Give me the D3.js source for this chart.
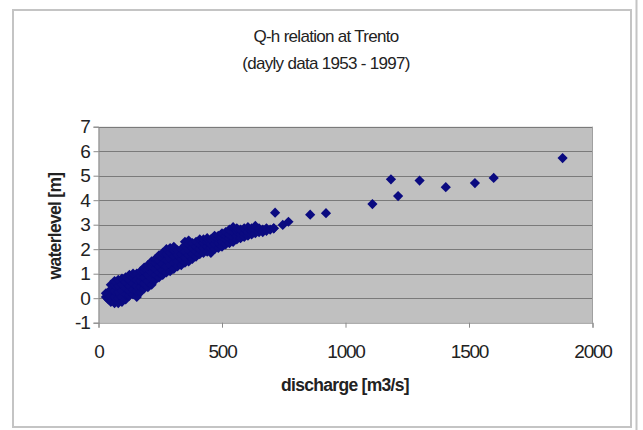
<!DOCTYPE html>
<html><head><meta charset="utf-8">
<script src="https://cdn.jsdelivr.net/npm/d3@7"></script>
<style>body{margin:0;background:#fff}svg{display:block}text{font-family:"Liberation Sans",Arial,sans-serif}</style>
</head><body><svg id="c" width="643" height="430"></svg>
<script>
const titleLines = ["Q-h relation at Trento", "(dayly data 1953 - 1997)"];
const xLabel = "discharge [m3/s]";
const yLabel = "waterlevel  [m]";
const xTicks = [0, 500, 1000, 1500, 2000];
const yTicks = [-1, 0, 1, 2, 3, 4, 5, 6, 7];

// discharge [m3/s] and waterlevel [m], read column by column off the cloud
const discharge = [
  30,30, 40,40, 50,50,50,50, 65,65,65,65,65, 80,80,80,80,80, 95,95,95,95,95,
  110,110,110,110,110, 125,125,125,125,125, 140,140,140,140,140, 155,155,155,155,155,
  170,170,170,170,170, 185,185,185,185,185, 200,200,200,200,200, 215,215,215,215,215,
  230,230,230,230,230, 245,245,245,245,245, 260,260,260,260,260, 275,275,275,275,275,
  290,290,290,290,290, 305,305,305,305,305, 320,320,320,320, 335,335,335,335,
  350,350,350,350,350, 365,365,365,365,365, 380,380,380,380, 395,395,395,395,
  410,410,410,410, 425,425,425,425, 440,440,440,440, 455,455,455,455,
  470,470,470,470, 485,485,485,485, 500,500,500,500, 515,515,515,515,
  530,530,530,530, 545,545,545,545, 560,560,560,560, 575,575,575, 590,590,590,
  605,605,605, 620,620,620, 635,635,635, 650,650, 665,665, 680,680, 695, 710,
  709, 715, 746, 769, 857, 921, 1109, 1184, 1213, 1300, 1406, 1524, 1600, 1879
];
const waterlevel = [
  0.05,0.2, -0.05,0.15, -0.15,0.1,0.35,0.55, -0.2,0.05,0.3,0.55,0.7, -0.2,0.0,0.25,0.5,0.75, -0.15,0.05,0.3,0.55,0.8,
  -0.05,0.15,0.4,0.65,0.85, 0.1,0.3,0.5,0.75,0.95, 0.15,0.35,0.6,0.85,1.0, 0.05,0.3,0.5,0.75,1.0,
  0.25,0.45,0.7,0.9,1.1, 0.4,0.6,0.85,1.1,1.25, 0.45,0.7,0.95,1.2,1.35, 0.55,0.8,1.05,1.3,1.5,
  0.75,0.95,1.2,1.45,1.6, 0.85,1.05,1.3,1.55,1.75, 0.95,1.15,1.4,1.65,1.85, 1.05,1.3,1.55,1.8,2.0,
  1.1,1.35,1.6,1.85,2.05, 1.2,1.45,1.7,1.95,2.1, 1.3,1.5,1.75,1.95, 1.35,1.6,1.8,2.0,
  1.45,1.65,1.9,2.15,2.3, 1.5,1.75,1.95,2.2,2.35, 1.6,1.8,2.05,2.25, 1.7,1.9,2.1,2.3,
  1.8,2.0,2.2,2.4, 1.85,2.05,2.25,2.4, 1.9,2.1,2.3,2.45, 1.85,2.05,2.2,2.4,
  2.0,2.2,2.4,2.55, 2.05,2.25,2.45,2.55, 2.1,2.3,2.5,2.65, 2.2,2.4,2.55,2.7,
  2.25,2.45,2.6,2.8, 2.3,2.5,2.7,2.9, 2.4,2.55,2.75,2.85, 2.45,2.6,2.8, 2.5,2.65,2.85,
  2.55,2.7,2.9, 2.6,2.75,2.85, 2.65,2.8,2.95, 2.7,2.85, 2.7,2.8, 2.75,2.85, 2.8, 2.85,
  2.85, 3.49, 2.99, 3.12, 3.41, 3.47, 3.84, 4.85, 4.17, 4.80, 4.53, 4.70, 4.91, 5.72
];

const svg = d3.select("#c");
// outer frames
svg.append("rect").attr("x",13).attr("y",10).attr("width",618).attr("height",417)
  .attr("fill","#fff").attr("stroke","#c4c4c4").attr("stroke-width",2);
svg.append("line").attr("x1",636.5).attr("x2",636.5).attr("y1",0).attr("y2",430)
  .attr("stroke","#c4c4c4").attr("stroke-width",2);

const L = 98.5, R = 592.5, T = 126.7, B = 322.7;
const x = d3.scaleLinear().domain([0, 2000]).range([L, R]);
const y = d3.scaleLinear().domain([-1, 7]).range([B, T]);

svg.append("rect").attr("x",L).attr("y",T).attr("width",R-L).attr("height",B-T)
  .attr("fill","#c0c0c0");
const g = svg.append("g");
g.selectAll("line.grid").data(yTicks.slice(1)).join("line").attr("class","grid")
  .attr("x1",L).attr("x2",R).attr("y1",d=>Math.round(y(d))+0.5).attr("y2",d=>Math.round(y(d))+0.5)
  .attr("stroke","#7a7a7a").attr("stroke-width",1);
svg.append("line").attr("x1",R).attr("x2",R).attr("y1",T).attr("y2",B).attr("stroke","#a0a0a0");

const fmt = d => String(d);
const yAxis = svg.append("g").attr("transform",`translate(${L},0)`)
  .call(d3.axisLeft(y).tickValues(yTicks).tickFormat(fmt).tickSize(5).tickPadding(4));
const xAxis = svg.append("g").attr("transform",`translate(0,${B})`)
  .call(d3.axisBottom(x).tickValues(xTicks).tickFormat(fmt).tickSize(5).tickPadding(17));
[yAxis, xAxis].forEach(a => {
  a.select(".domain").attr("stroke","#8a8a8a");
  a.selectAll(".tick line").attr("stroke","#8a8a8a");
  a.selectAll("text").attr("font-size",19).attr("fill","#222").attr("letter-spacing","-1.2px")
   .attr("font-family","'Liberation Sans',Arial,sans-serif");
});

const pts = discharge.map((q,i)=>[q, waterlevel[i]]);
const sym = d3.symbol(d3.symbolSquare, 52);
svg.append("g").selectAll("path").data(pts).join("path")
  .attr("d", sym)
  .attr("transform", d=>`translate(${x(d[0])},${y(d[1])}) rotate(45)`)
  .attr("fill","#0a0a80");

svg.selectAll("text.title").data(titleLines).join("text").attr("class","title")
  .attr("x",326).attr("y",(d,i)=>42+i*27).attr("text-anchor","middle")
  .attr("font-size",17).attr("fill","#222").attr("letter-spacing","-0.7px").text(d=>d);

svg.append("text").attr("x",345).attr("y",391).attr("text-anchor","middle")
  .attr("font-size",17.5).attr("font-weight","bold").attr("fill","#222").attr("letter-spacing","-0.7px").text(xLabel);
svg.append("text").attr("transform","translate(61,226) rotate(-90)").attr("text-anchor","middle")
  .attr("font-size",17.5).attr("font-weight","bold").attr("fill","#222").attr("letter-spacing","-0.7px").text(yLabel);
</script></body></html>
